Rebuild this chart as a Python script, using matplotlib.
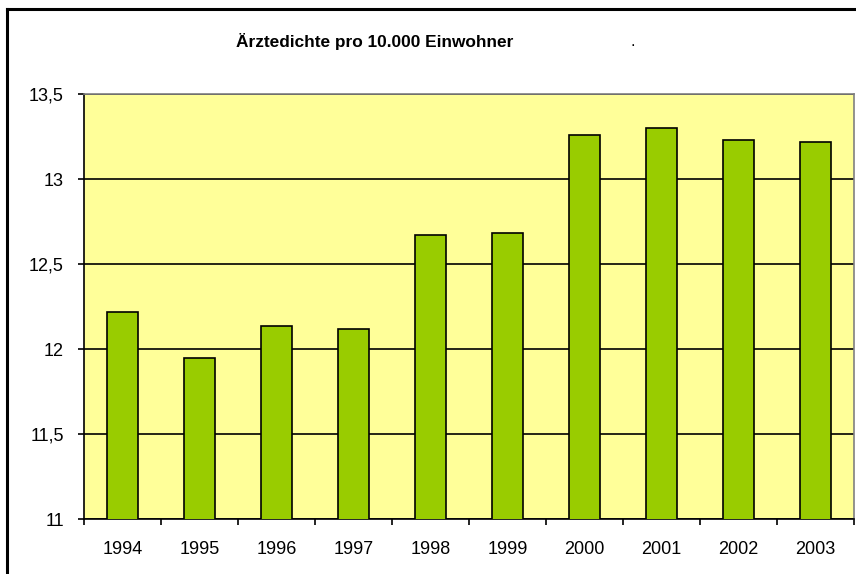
import numpy as np
import matplotlib
matplotlib.use("Agg")
import matplotlib.pyplot as plt
from matplotlib.lines import Line2D

plt.rcParams['font.family'] = ['Liberation Sans', 'DejaVu Sans']

jahre = ['1994', '1995', '1996', '1997', '1998', '1999', '2000', '2001', '2002', '2003']
dichte = [12.22, 11.95, 12.135, 12.12, 12.67, 12.68, 13.26, 13.30, 13.23, 13.22]
y_ticks = [11, 11.5, 12, 12.5, 13, 13.5]
y_labels = ['11', '11,5', '12', '12,5', '13', '13,5']

fig = plt.figure(figsize=(8.56, 5.74), dpi=100)
ax = fig.add_axes([84 / 856, 1 - 519 / 574, (854 - 84) / 856, (519 - 94) / 574])
ax.set_facecolor('#FFFF99')

x = np.arange(len(jahre))
ax.bar(x, dichte, width=0.4, color='#99CC00', edgecolor='black', linewidth=1.2, zorder=3)

ax.set_xlim(-0.5, len(jahre) - 0.5)
ax.set_ylim(11, 13.5)

# horizontal grid
ax.set_yticks(y_ticks)
ax.set_yticklabels(y_labels, fontsize=13)
ax.yaxis.grid(True, color='black', linewidth=1.2, zorder=1)
ax.set_axisbelow(True)

# ticks at category borders, labels in the middle
ax.set_xticks(np.arange(-0.5, len(jahre), 1.0))
ax.set_xticklabels([])
ax.set_xticks(x, minor=True)
ax.set_xticklabels(jahre, minor=True, fontsize=13)
ax.tick_params(axis='x', which='major', direction='out', length=4.5, width=1.2, color='black')
ax.tick_params(axis='x', which='minor', length=0, pad=16)
ax.tick_params(axis='y', direction='out', length=4.5, width=1.2, pad=10)

for side in ['left', 'bottom']:
    ax.spines[side].set_color('black')
    ax.spines[side].set_linewidth(1.2)
for side in ['top', 'right']:
    ax.spines[side].set_color('#808080')
    ax.spines[side].set_linewidth(1.2)

fig.text(375 / 856, 1 - 41 / 574, 'Ärztedichte pro 10.000 Einwohner',
         ha='center', va='center', fontsize=12.4, fontweight='bold')
fig.text(633 / 856, 1 - 41 / 574, '.', ha='center', va='center', fontsize=12)

# chart frame
fig.add_artist(Line2D([6.5 / 856, 6.5 / 856], [0, 1 - 9 / 574], transform=fig.transFigure,
                      color='black', linewidth=2.2))
fig.add_artist(Line2D([6.5 / 856, 1], [1 - 9 / 574, 1 - 9 / 574], transform=fig.transFigure,
                      color='black', linewidth=2.2))

fig.savefig('out.png', dpi=100)
